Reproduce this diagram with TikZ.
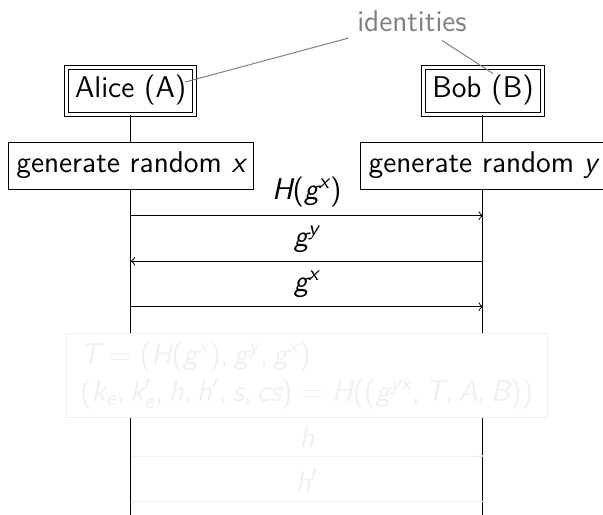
\documentclass[tikz,border=0pt]{standalone}
\DeclareSymbolFont{operators}{TU}{lmss}{m}{n}
\DeclareSymbolFont{letters}{TU}{lmss}{m}{sl}
\DeclareMathSymbol{,}{\mathpunct}{operators}{"2C}
\DeclareMathSizes{12}{12}{8.6}{6.5}
\usetikzlibrary{calc}
\begin{document}
\begin{tikzpicture}[x=0.4pt,y=0.4pt,yscale=-1,xscale=1,
  every node/.style={font=\fontsize{12}{14.5}\selectfont\sffamily},
  party/.style={draw,double,double distance=1.2pt,minimum height=18.8pt},
  task/.style={draw,fill=white,minimum height=18.8pt},
  msg/.style={->},
  remark/.style={gray},
  faded/.style={black!6},
  fadedbox/.style={draw=black!6,fill=white,text=black!6,align=left,inner xsep=5.5pt}]
\useasboundingbox (0,0) rectangle (603,515);

% Text Node
\node [party] (alice) at (130.7,90.5) {Alice (A)};
% Text Node
\node [party] (bob) at (483,90.5) {Bob (B)};
% Text Node
\node [task] (genx) at (130.7,165.5) {generate random $x$};
% Text Node
\node [task] (geny) at (483,165.5) {generate random $y$};
% Text Node
\node [remark] (ident) at (412,21) {identities};

\coordinate (endA) at (130.7,515);
\coordinate (endB) at (483,515);
\coordinate (ptA) at ($(alice.center)+(54.5,-8.5)$);
\coordinate (ptB) at ($(bob.center)+(10,-17)$);

%Straight Lines
\draw (alice) -- (genx);
\draw (bob) -- (geny);
\draw (genx) -- (endA);
\draw (geny) -- (endB);
%Straight Lines
\draw [remark] (ident) -- (ptA);
\draw [remark] (ident) -- (ptB);

% Text Node
\node [fadedbox] (keys) at (306.7,375.5) {$T = (H(g^x), g^y, g^x)$\\$(k_e, k'_e, h, h', s, cs) = H((g^{yx}, T, A, B))$};

\coordinate (a1) at (130.7,215.7);
\coordinate (b1) at (483,215.7);
\coordinate (a2) at (130.7,261.2);
\coordinate (b2) at (483,261.2);
\coordinate (a3) at (130.7,306.7);
\coordinate (b3) at (483,306.7);
\coordinate (a4) at (130.7,456);
\coordinate (b4) at (483,456);
\coordinate (a5) at (130.7,501.5);
\coordinate (b5) at (483,501.5);

%Straight Lines
\draw [msg] (a1) -- node [above] (m1) {$H(g^x)$} (b1);
\draw [msg] (b2) -- node [above] (m2) {$g^y$} (a2);
\draw [msg] (a3) -- node [above] (m3) {$g^x$} (b3);
\draw [msg,faded] (a4) -- node [above] (m4) {$h$} (b4);
\draw [msg,faded] (b5) -- node [above] (m5) {$h'$} (a5);

\end{tikzpicture}
\end{document}
